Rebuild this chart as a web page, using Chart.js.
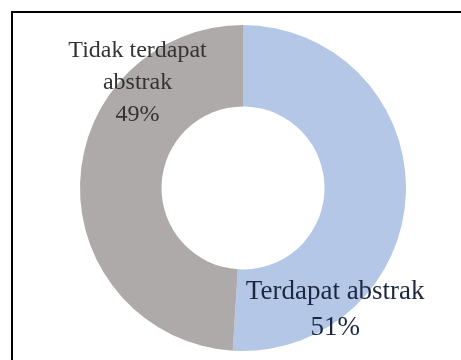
<!DOCTYPE html>
<html>
<head>
<meta charset="utf-8">
<script src="https://cdn.jsdelivr.net/npm/chart.js@4.4.1/dist/chart.umd.min.js"></script>
<style>
  html, body { margin: 0; padding: 0; background: #fff; overflow: hidden; }
  #bingkai {
    position: absolute; left: 11px; top: 11px;
    width: 460px; height: 360px;
    border-left: 2px solid #000; border-top: 2px solid #000;
  }
  #wadah { position: absolute; left: 0; top: 0; width: 461px; height: 360px; }
</style>
</head>
<body>
<div id="bingkai"></div>
<div id="wadah"><canvas id="abstrak"></canvas></div>
<script>
// Proporsi artikel dengan / tanpa abstrak
const kategori = ["Terdapat abstrak", "Tidak terdapat abstrak"];
const persen = [51, 49];
const baris_label = [["Terdapat abstrak"], ["Tidak terdapat", "abstrak"]];
const warna = ["#b4c7e7", "#aeaaaa"];

// label ditaruh per potongan: sudut (derajat, 0 = atas, searah jarum jam) dan jarak dari pusat
const posisiLabel = [
  {sudut: 143, jarak: 0.94, warnaTeks: "#1c2840", ukuran: 27, jarakBaris: 36},
  {sudut: 315, jarak: 0.915, warnaTeks: "#333333", ukuran: 24, jarakBaris: 32}
];

const labelPotongan = {
  id: "labelPotongan",
  afterDatasetsDraw(chart) {
    const c = chart.ctx;
    const meta = chart.getDatasetMeta(0);
    meta.data.forEach((arc, i) => {
      const p = posisiLabel[i];
      const a = (p.sudut - 90) * Math.PI / 180;
      const r = arc.outerRadius * p.jarak;
      const x = arc.x + Math.cos(a) * r;
      const y = arc.y + Math.sin(a) * r;
      const teks = baris_label[i].concat([persen[i] + "%"]);
      c.save();
      c.fillStyle = p.warnaTeks;
      c.font = p.ukuran + "px 'Liberation Serif', serif";
      c.textAlign = "center";
      c.textBaseline = "middle";
      const awal = y - (teks.length - 1) * p.jarakBaris / 2;
      teks.forEach((t, k) => c.fillText(t, x, awal + k * p.jarakBaris));
      c.restore();
    });
  }
};

const ctx = document.getElementById("abstrak").getContext("2d");
const grafik = new Chart(ctx, {
  type: "doughnut",
  data: {
    labels: kategori,
    datasets: [{
      data: persen,
      backgroundColor: warna,
      borderWidth: 0
    }]
  },
  options: {
    responsive: true,
    maintainAspectRatio: false,
    animation: false,
    cutout: "50%",
    layout: {padding: {left: 80, right: 55, top: 25, bottom: 9}},
    plugins: {
      legend: {display: false},
      tooltip: {enabled: false}
    }
  },
  plugins: [labelPotongan]
});
</script>
</body>
</html>
